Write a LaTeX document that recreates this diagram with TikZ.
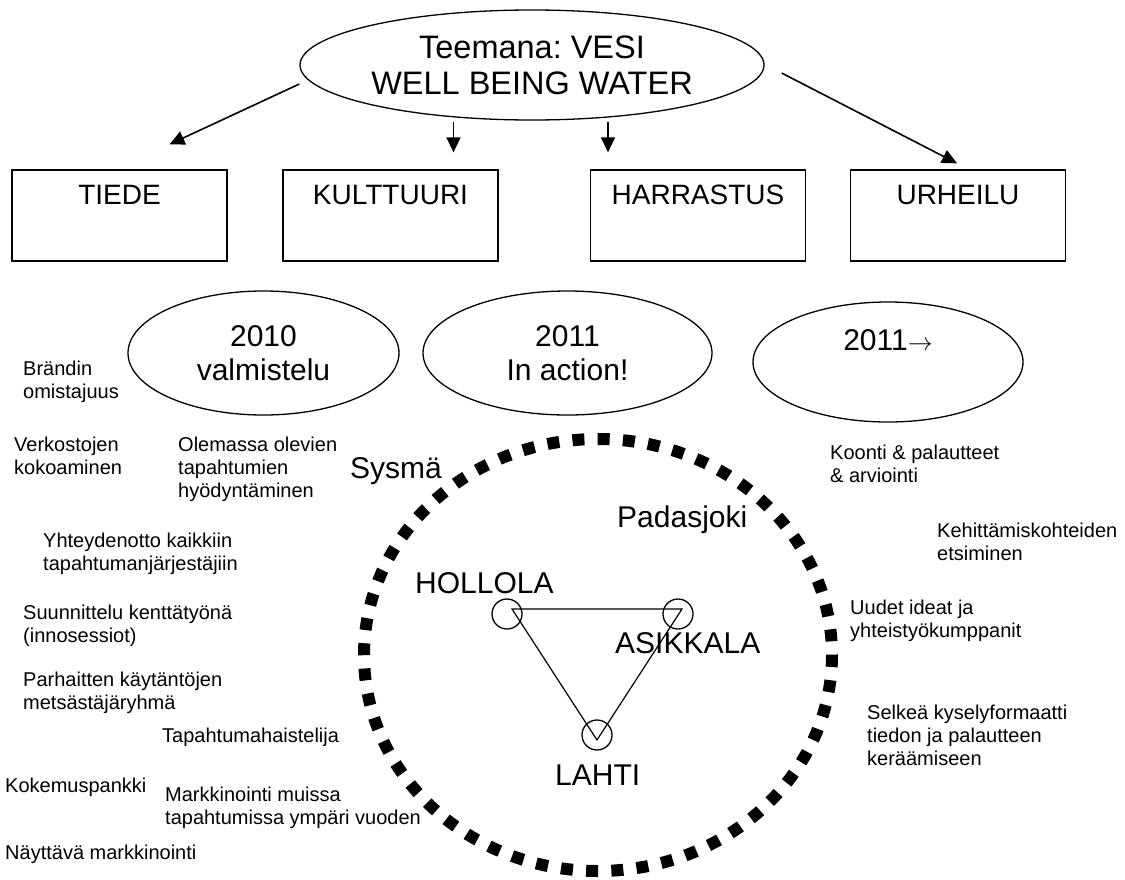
\documentclass[tikz,border=0pt]{standalone}
\usepackage{fontspec}
\setmainfont{Liberation Sans}
\usetikzlibrary{arrows.meta,shapes.geometric}
\frenchspacing
\begin{document}
\begin{tikzpicture}[x=1pt,y=-1pt,
    oval/.style={ellipse, draw, line width=1.3pt, inner sep=0pt, align=center, font=\fontsize{30}{34}\selectfont},
    area/.style={rectangle, draw, line width=1.3pt, minimum width=215pt, minimum height=91pt, inner xsep=0pt, inner ysep=14pt, text height=20pt, text depth=43pt, font=\fontsize{28}{32}\selectfont},
    note/.style={anchor=north west, inner sep=0pt, align=left, font=\fontsize{20}{23}\selectfont},
    place/.style={anchor=base west, inner sep=0pt, font=\fontsize{30}{34}\selectfont},
    town/.style={circle, draw, line width=1.3pt, minimum size=30pt, inner sep=0pt},
    arr/.style={line width=1.6pt, -{Triangle[length=15pt,width=14pt]}}
  ]
\fill[white] (0,0) rectangle (1125,879);

\node[oval, minimum width=464pt, minimum height=110pt, font=\fontsize{32.5}{36}\selectfont] (theme) at (532,65) {Teemana: VESI\\WELL BEING WATER};

\node[area] (tiede) at (119.5,215.5) {TIEDE};
\node[area] (kult) at (390.5,215.5) {KULTTUURI};
\node[area] (harr) at (698,215.5) {HARRASTUS};
\node[area] (urh) at (958,215.5) {URHEILU};

\draw[arr] ([shift={(0,19)}]theme.west) -- ([shift={(50,-25)}]tiede.north);
\draw[arr] ([shift={(63,-47)}]kult.north) -- ([shift={(63,-17)}]kult.north);
\draw[arr] ([shift={(-90,-47)}]harr.north) -- ([shift={(-90,-17)}]harr.north);
\draw[arr] ([shift={(17,8)}]theme.east) -- ([shift={(-1,-6)}]urh.north);

\node[oval, minimum width=271pt, minimum height=124pt] (prep) at (263.5,353) {2010\\valmistelu};
\node[oval, minimum width=289pt, minimum height=124pt] (action) at (567.5,353) {2011\\In action!};
\node[oval, minimum width=270pt, minimum height=120pt, text height=20pt, text depth=44pt] (after) at (888,362) {2011$\rightarrow$};

\draw[line width=12pt, dash pattern=on 12pt off 13.25pt] (598,655) ellipse [x radius=234, y radius=216];

\node[town] (hollola) at (507,614) {};
\node[town] (asikkala) at (678,614) {};
\node[town] (lahti) at (597,735) {};
\draw[line width=1.2pt] ([shift={(5,-5)}]hollola.center) -- ([shift={(4,-5)}]asikkala.center) -- ([shift={(0,5)}]lahti.center) -- cycle;

\node[place] (sysma) at (350,478) {Sysmä};
\node[place] (padasjoki) at (617,527) {Padasjoki};
\node[place] (hollolaname) at (415,593) {HOLLOLA};
\node[place] (asikkalaname) at (615,653) {ASIKKALA};
\node[place] (lahtiname) at (555,785) {LAHTI};

\node[note] (brand) at (23,361) {Brändin\\omistajuus};
\node[note] (network) at (14,437) {Verkostojen\\kokoaminen};
\node[note] (existing) at (178,437) {Olemassa olevien\\tapahtumien\\hyödyntäminen};
\node[note] (contact) at (43,533) {Yhteydenotto kaikkiin\\tapahtumanjärjestäjiin};
\node[note] (fieldwork) at (23,605) {Suunnittelu kenttätyönä\\(innosessiot)};
\node[note] (hunters) at (23,672) {Parhaitten käytäntöjen\\metsästäjäryhmä};
\node[note] (sniffer) at (162,728) {Tapahtumahaistelija};
\node[note] (bank) at (5,778) {Kokemuspankki};
\node[note] (marketing) at (165,787) {Markkinointi muissa\\tapahtumissa ympäri vuoden};
\node[note] (showy) at (5,845) {Näyttävä markkinointi};
\node[note] (summary) at (830,445) {Koonti \& palautteet\\\& arviointi};
\node[note] (develop) at (937,523) {Kehittämiskohteiden\\etsiminen};
\node[note] (ideas) at (850,600) {Uudet ideat ja\\yhteistyökumppanit};
\node[note] (survey) at (867,705) {Selkeä kyselyformaatti\\tiedon ja palautteen\\keräämiseen};
\end{tikzpicture}
\end{document}
